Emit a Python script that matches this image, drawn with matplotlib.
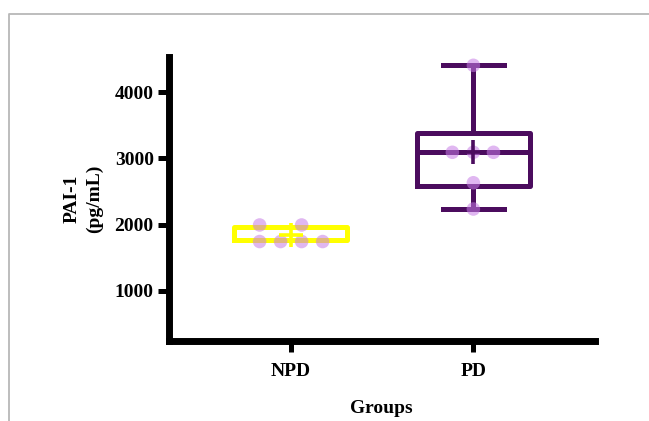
import matplotlib
matplotlib.use("Agg")
import matplotlib.pyplot as plt
from matplotlib.lines import Line2D

# ---- data ----
groups = ["NPD", "PD"]
npd_values = [1995, 1995, 1745, 1745, 1745, 1745]
pd_values = [4407, 3093, 3093, 3093, 2633, 2236]
# box statistics as drawn (min/Q1/median/Q3/max/mean)
npd_stats = dict(whislo=1761, q1=1761, med=1761, q3=1957, whishi=1957, mean=1837)
pd_stats = dict(whislo=2236, q1=2578, med=3093, q3=3386, whishi=4407, mean=3092)
# horizontal scatter offsets of the dots (layout)
npd_offsets = [-0.17, 0.06, -0.17, -0.055, 0.06, 0.175]
pd_offsets = [0.0, -0.115, 0.0, 0.11, 0.0, 0.0]
yticks = [1000, 2000, 3000, 4000]

colors = ["#FFFF00", "#4B0C5E"]
dot_color = "#C77DE6"

plt.rcParams['font.family'] = ['Liberation Serif', 'DejaVu Serif']
plt.rcParams['font.weight'] = 'bold'

W, H = 649, 421
fig = plt.figure(figsize=(W / 100, H / 100), dpi=100)
ax = fig.add_axes([169 / W, 1 - 340.5 / H, (594.5 - 169) / W, (340.5 - 56.5) / H])

all_stats = [npd_stats, pd_stats]
all_vals = [npd_values, pd_values]
all_off = [npd_offsets, pd_offsets]

for i, (st, c) in enumerate(zip(all_stats, colors)):
    s = dict(st)
    s["label"] = groups[i]
    ax.bxp([s], positions=[i], widths=0.62, showmeans=False, showfliers=False,
           patch_artist=False,
           boxprops=dict(color=c, linewidth=3.6),
           whiskerprops=dict(color=c, linewidth=3.6),
           capprops=dict(color=c, linewidth=3.6),
           medianprops=dict(color=c, linewidth=3.6),
           capwidths=0.33, manage_ticks=False)

for i, (vals, off) in enumerate(zip(all_vals, all_off)):
    ax.scatter([i + o for o in off], vals, s=95, color=dot_color, alpha=0.55,
               edgecolors="none", zorder=3)

for i, (st, c) in enumerate(zip(all_stats, colors)):
    ax.plot([i], [st["mean"]], marker="+", markersize=17, mew=2.6, color=c,
            linestyle="none", zorder=4)

ax.set_xlim(-0.666, 1.663)
ax.set_ylim(250, 4540)
ax.set_xticks([0, 1])
ax.set_xticklabels(groups)
ax.set_yticks(yticks)
ax.set_yticklabels([str(v) for v in yticks])

for side in ["top", "right"]:
    ax.spines[side].set_visible(False)
for side in ["left", "bottom"]:
    ax.spines[side].set_linewidth(5)
    ax.spines[side].set_color("black")

ax.tick_params(axis="both", width=3.6, length=8, color="black",
               labelsize=14, pad=3)
ax.tick_params(axis="x", pad=8)
for lab in ax.get_xticklabels() + ax.get_yticklabels():
    lab.set_fontweight("bold")

ax.set_xlabel("Groups", fontsize=14, fontweight="bold")
ax.xaxis.set_label_coords(0.5, -0.21)
ax.set_ylabel("PAI-1\n(pg/mL)", fontsize=14, fontweight="bold", labelpad=8,
              linespacing=1.45)

# thin gray frame (top and left) around the image
fig.add_artist(Line2D([8.5 / W, 8.5 / W, 1.0], [0.0, 1 - 13.5 / H, 1 - 13.5 / H],
                      transform=fig.transFigure, color="#b8b8b8", linewidth=1.3))

fig.savefig("out.png", dpi=100)
